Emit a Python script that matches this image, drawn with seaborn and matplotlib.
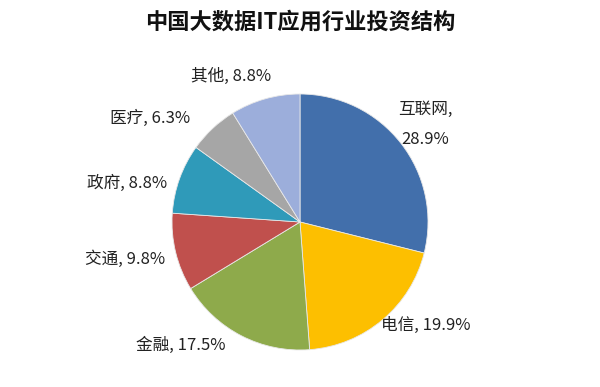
import matplotlib
matplotlib.use('Agg')
from matplotlib import pyplot as plt
import numpy as np
import seaborn as sns

# 数据
industries = ['互联网', '电信', '金融', '交通', '政府', '医疗', '其他']
shares = [28.9, 19.9, 17.5, 9.8, 8.8, 6.3, 8.8]
colors = ['#426fab', '#fdbf00', '#8eaa4b', '#c0504d', '#2f9ab9', '#a6a6a6', '#9caedb']
label_texts = ['互联网,\n28.9%', '电信, 19.9%', '金融, 17.5%', '交通, 9.8%',
               '政府, 8.8%', '医疗, 6.3%', '其他, 8.8%']
# label layout (in pie-radius units, relative to centre), Excel "best fit" style
label_xy = [(0.98, 0.76), (0.98, -0.81), (-0.93, -0.96), (-1.37, -0.29),
            (-1.35, 0.30), (-1.17, 0.81), (-0.54, 1.14)]

sns.set_theme(style='white')
plt.rcParams['font.family'] = ['Noto Sans CJK SC', 'DejaVu Sans']

fig = plt.figure(figsize=(6, 3.87), dpi=100)
R = 128.0  # pie radius in pixels
ax = fig.add_axes([0, 0, 1, 1])
ax.pie(shares, colors=colors, startangle=90, counterclock=False,
       wedgeprops=dict(edgecolor='#e8e8e8', linewidth=0.6))
ax.set_xlim(-300 / R, 300 / R)
ax.set_ylim(-165 / R, 222 / R)
ax.set_aspect('equal')
ax.axis('off')

for txt, (x, y) in zip(label_texts, label_xy):
    ax.text(x, y, txt, ha='center', va='center', fontsize=12,
            color='#222222', linespacing=2.0)

fig.text(0.5, 1 - 22 / 387, '中国大数据IT应用行业投资结构', ha='center', va='center',
         fontsize=16, fontweight='bold', color='#111111')

fig.savefig('out.png', dpi=100)
